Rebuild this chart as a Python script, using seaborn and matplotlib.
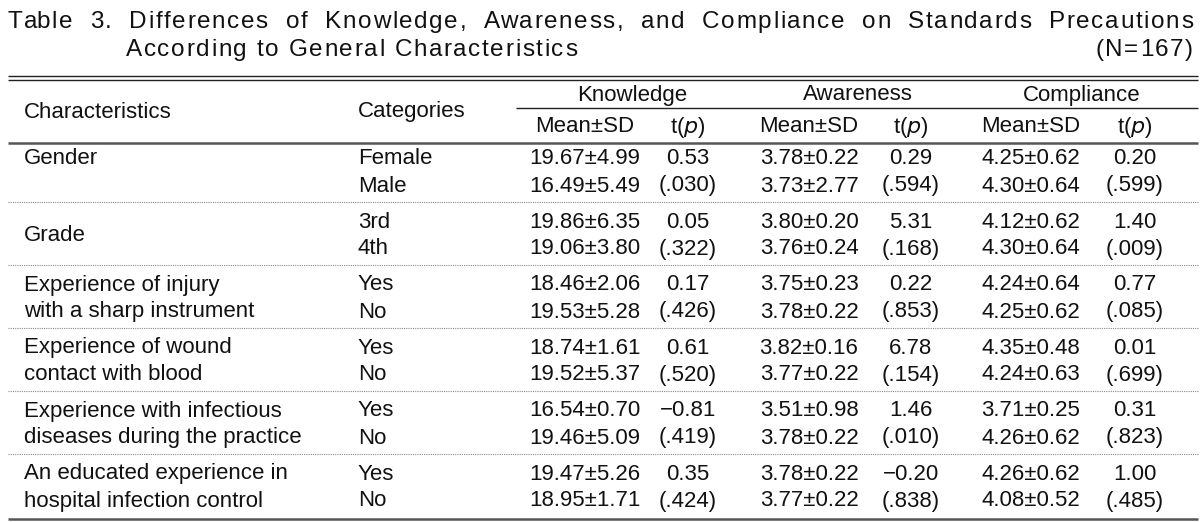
import matplotlib
matplotlib.use("Agg")
import matplotlib.pyplot as plt
from matplotlib.font_manager import FontProperties
import seaborn as sns

sns.set_style("white")
plt.rcParams['font.family'] = ['Liberation Sans', 'DejaVu Sans']

# ---- table content ----
title_line1 = "Table 3. Differences of Knowledge, Awareness, and Compliance on Standards Precautions"
title_line2 = "According to General Characteristics"
sample_size = "(N=167)"

groups = ["Knowledge", "Awareness", "Compliance"]
characteristics = [["Gender"],
                   ["Grade"],
                   ["Experience of injury", "with a sharp instrument"],
                   ["Experience of wound", "contact with blood"],
                   ["Experience with infectious", "diseases during the practice"],
                   ["An educated experience in", "hospital infection control"]]
categories = [["Female", "Male"], ["3rd", "4th"], ["Yes", "No"],
              ["Yes", "No"], ["Yes", "No"], ["Yes", "No"]]

know_mean = ["19.67±4.99", "16.49±5.49", "19.86±6.35", "19.06±3.80", "18.46±2.06", "19.53±5.28",
             "18.74±1.61", "19.52±5.37", "16.54±0.70", "19.46±5.09", "19.47±5.26", "18.95±1.71"]
know_t = ["0.53", "(.030)", "0.05", "(.322)", "0.17", "(.426)",
          "0.61", "(.520)", "−0.81", "(.419)", "0.35", "(.424)"]
aware_mean = ["3.78±0.22", "3.73±2.77", "3.80±0.20", "3.76±0.24", "3.75±0.23", "3.78±0.22",
              "3.82±0.16", "3.77±0.22", "3.51±0.98", "3.78±0.22", "3.78±0.22", "3.77±0.22"]
aware_t = ["0.29", "(.594)", "5.31", "(.168)", "0.22", "(.853)",
           "6.78", "(.154)", "1.46", "(.010)", "−0.20", "(.838)"]
comp_mean = ["4.25±0.62", "4.30±0.64", "4.12±0.62", "4.30±0.64", "4.24±0.64", "4.25±0.62",
             "4.35±0.48", "4.24±0.63", "3.71±0.25", "4.26±0.62", "4.26±0.62", "4.08±0.52"]
comp_t = ["0.20", "(.599)", "1.40", "(.009)", "0.77", "(.085)",
          "0.01", "(.699)", "0.31", "(.823)", "1.00", "(.485)"]

# ---- layout (pixel space) ----
W, H = 1204, 522
fig = plt.figure(figsize=(W / 100, H / 100), dpi=100)
ax = fig.add_axes([0, 0, 1, 1])
ax.set_xlim(0, W)
ax.set_ylim(H, 0)
ax.axis("off")

fs = 16
fs_title = 17.5
txt = dict(fontsize=fs, color="#111111", va="center")
left, right = 8, 1198

fig.canvas.draw()
r = fig.canvas.get_renderer()
tprop = FontProperties(family=['Liberation Sans', 'DejaVu Sans'], size=fs_title)


def text_w(s):
    return r.get_text_width_height_descent(s, tprop, ismath=False)[0]


def tracked(x, y, s, track, word_gap=0.0, ha="left"):
    # letter-spaced title text, optional extra space between words
    total = text_w(s) + track * (len(s) - 1) + word_gap * s.count(" ")
    if ha == "right":
        x = x - total
    for i, ch in enumerate(s):
        if ch != " ":
            xi = x + text_w(s[:i]) + track * i + word_gap * s[:i].count(" ")
            ax.text(xi, y, ch, fontsize=fs_title, color="#111111", va="center")


track = (577 - 126 - text_w(title_line2)) / (len(title_line2) - 1)
nat1 = text_w(title_line1) + track * (len(title_line1) - 1)
word_gap = (1193 - left - nat1) / title_line1.count(" ")
tracked(left, 22, title_line1, track, word_gap)
tracked(126, 50, title_line2, track)
tracked(1193, 50, sample_size, track, ha="right")

# rules
ax.hlines([76, 80], left, right, color="#222222", lw=1.0)
ax.hlines(108, 516, right, color="#222222", lw=1.0)
ax.hlines(143, left, right, color="#555555", lw=1.8)
ax.hlines(519, left, right, color="#555555", lw=1.8)

# header
ax.text(24, 112, "Characteristics", **txt)
ax.text(358, 112, "Categories", **txt)
group_x = [632, 858, 1082]
mean_x = [585, 809, 1031]
t_x = [688, 911, 1135]
for g, gx, mx, tx in zip(groups, group_x, mean_x, t_x):
    ax.text(gx, 95, g, ha="center", **txt)
    ax.text(mx, 127, "Mean±SD", ha="center", **txt)
    ax.text(tx, 127, r"t($\mathit{p}$)", ha="center", **txt)

# body
row_y = []
for i in range(len(characteristics)):
    top = 159 + 63 * i
    row_y += [top, top + 27]

cols = [(mean_x[0], know_mean), (t_x[0], know_t),
        (mean_x[1], aware_mean), (t_x[1], aware_t),
        (mean_x[2], comp_mean), (t_x[2], comp_t)]

for i, (label, cats) in enumerate(zip(characteristics, categories)):
    y0, y1 = row_y[2 * i], row_y[2 * i + 1]
    if label[0] == "Grade":
        ax.text(24, (y0 + y1) / 2, label[0], **txt)
    else:
        for line, y in zip(label, [y0, y1]):
            ax.text(24, y, line, **txt)
    for c, y in zip(cats, [y0, y1]):
        ax.text(358, y, c, **txt)
    if i < len(characteristics) - 1:
        ax.hlines(y1 + 16, left, right, color="#888888", lw=0.8, linestyles=(0, (1, 1)))

for cx, vals in cols:
    for v, y in zip(vals, row_y):
        ax.text(cx, y, v, ha="center", **txt)

fig.savefig("out.png", dpi=100, facecolor="white")
